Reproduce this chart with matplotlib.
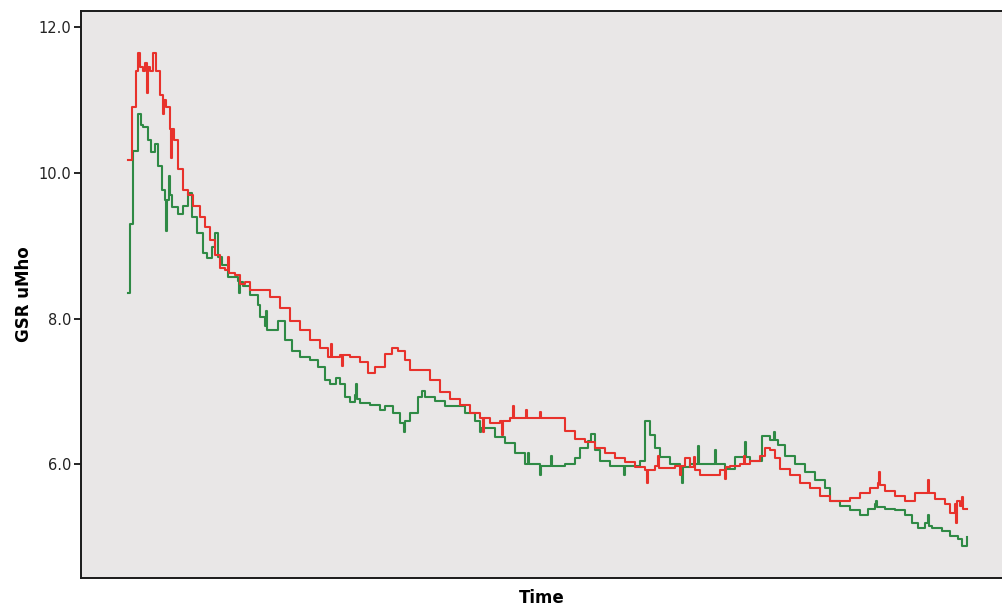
# GSR trace over time, two sessions
import matplotlib
matplotlib.use('Agg')
import matplotlib.pyplot as plt

# ---- data (time in samples, GSR in uMho) ----
red_t = [0, 4, 8, 10, 12, 15, 17, 19, 20, 22, 25, 28, 32, 35, 36, 38, 42, 43, 44,
         46, 50, 55, 60, 65, 72, 77, 82, 87, 92, 97, 100, 101, 107, 112, 117, 122,
         132, 142, 152, 162, 172, 182, 192, 200, 203, 204, 212, 214, 215, 222, 232,
         240, 247, 257, 264, 270, 277, 282, 292, 302, 312, 322, 332, 342, 352, 355,
         356, 362, 372, 374, 375, 382, 385, 386, 392, 398, 399, 405, 412, 413, 420,
         432, 437, 447, 457, 467, 477, 487, 497, 507, 517, 519, 520, 527, 530, 531,
         537, 547, 552, 553, 557, 562, 566, 567, 572, 582, 592, 597, 598, 602, 612,
         616, 617, 622, 632, 637, 642, 647, 652, 662, 672, 682, 692, 702, 712, 722,
         732, 742, 750, 751, 752, 757, 767, 777, 787, 797, 800, 801, 807, 817, 822,
         827, 828, 829, 832, 834, 835, 839]
red_v = [10.17, 10.9, 11.4, 11.65, 11.45, 11.4, 11.5, 11.1, 11.45, 11.4, 11.65, 11.4,
         11.07, 10.8, 11.0, 10.9, 10.6, 10.2, 10.6, 10.45, 10.05, 9.76, 9.7, 9.55,
         9.4, 9.25, 9.08, 8.87, 8.7, 8.66, 8.85, 8.63, 8.6, 8.48, 8.5, 8.39, 8.39,
         8.29, 8.14, 7.97, 7.84, 7.7, 7.59, 7.47, 7.65, 7.47, 7.5, 7.35, 7.5, 7.47,
         7.4, 7.25, 7.33, 7.52, 7.6, 7.55, 7.43, 7.29, 7.29, 7.15, 6.99, 6.9, 6.81,
         6.7, 6.64, 6.45, 6.64, 6.57, 6.6, 6.4, 6.6, 6.64, 6.8, 6.64, 6.63, 6.75,
         6.63, 6.63, 6.72, 6.63, 6.63, 6.63, 6.46, 6.35, 6.3, 6.23, 6.16, 6.08, 6.03,
         5.96, 5.92, 5.75, 5.92, 5.98, 6.12, 5.95, 5.95, 5.98, 5.85, 5.98, 6.09,
         5.96, 6.1, 5.92, 5.85, 5.85, 5.92, 5.8, 5.96, 5.98, 6.0, 6.12, 6.0, 6.05,
         6.12, 6.23, 6.2, 6.08, 5.94, 5.85, 5.75, 5.67, 5.57, 5.5, 5.5, 5.54, 5.61,
         5.68, 5.75, 5.9, 5.72, 5.64, 5.57, 5.5, 5.6, 5.6, 5.78, 5.6, 5.53, 5.46,
         5.33, 5.45, 5.2, 5.5, 5.43, 5.55, 5.39, 5.39]

green_t = [0, 2, 5, 10, 13, 15, 20, 23, 27, 30, 34, 37, 38, 39, 41, 42, 44, 50, 55,
           60, 64, 69, 75, 79, 84, 87, 90, 94, 100, 105, 110, 111, 112, 115, 122,
           130, 132, 137, 138, 139, 142, 150, 157, 164, 172, 182, 190, 197, 202, 208,
           212, 217, 222, 227, 228, 229, 232, 242, 252, 257, 265, 272, 276, 277, 282,
           290, 294, 297, 307, 317, 327, 337, 347, 352, 353, 357, 367, 377, 387, 397,
           400, 401, 407, 412, 413, 417, 423, 424, 427, 437, 447, 452, 460, 463, 467,
           472, 482, 492, 496, 497, 502, 512, 517, 522, 527, 532, 542, 552, 554, 555,
           562, 570, 571, 582, 587, 588, 597, 607, 617, 618, 622, 634, 642, 646, 647,
           650, 657, 667, 677, 687, 697, 702, 712, 722, 732, 740, 747, 748, 749, 757,
           767, 777, 784, 790, 797, 800, 801, 804, 814, 822, 830, 834, 839]
green_v = [8.35, 9.3, 10.3, 10.8, 10.65, 10.63, 10.45, 10.28, 10.4, 10.1, 9.76, 9.62,
           9.2, 9.62, 9.95, 9.7, 9.53, 9.44, 9.55, 9.72, 9.39, 9.17, 8.9, 8.83, 8.98,
           9.18, 8.85, 8.73, 8.57, 8.57, 8.52, 8.35, 8.5, 8.45, 8.32, 8.18, 8.02, 7.9,
           8.1, 7.84, 7.84, 7.97, 7.7, 7.56, 7.47, 7.43, 7.33, 7.15, 7.1, 7.19, 7.1,
           6.92, 6.85, 6.95, 7.1, 6.9, 6.84, 6.81, 6.74, 6.8, 6.7, 6.56, 6.45, 6.6,
           6.7, 6.92, 7.0, 6.92, 6.87, 6.8, 6.8, 6.7, 6.6, 6.45, 6.5, 6.5, 6.37, 6.29,
           6.16, 6.01, 6.15, 6.01, 6.01, 5.85, 5.98, 5.98, 6.12, 5.98, 5.98, 6.01,
           6.08, 6.23, 6.32, 6.42, 6.2, 6.05, 5.98, 5.98, 5.85, 5.98, 5.98, 6.05, 6.6,
           6.4, 6.23, 6.1, 6.01, 5.96, 5.75, 5.96, 6.01, 6.25, 6.01, 6.01, 6.2, 6.01,
           5.94, 6.1, 6.3, 6.1, 6.05, 6.39, 6.33, 6.45, 6.33, 6.26, 6.12, 6.01, 5.89,
           5.78, 5.67, 5.5, 5.43, 5.37, 5.3, 5.39, 5.45, 5.5, 5.42, 5.39, 5.37, 5.3,
           5.19, 5.13, 5.2, 5.3, 5.15, 5.12, 5.09, 5.02, 4.98, 4.88, 5.0]

y_ticks = [6.0, 8.0, 10.0, 12.0]
y_tick_labels = ['6.0', '8.0', '10.0', '12.0']

# ---- plot ----
fig = plt.figure(figsize=(10.03, 6.09), dpi=100)
ax = fig.add_axes([81 / 1003, 1 - 578 / 609, 1 - 81 / 1003, (578 - 11) / 609])
ax.set_facecolor('#e9e7e7')

ax.plot(green_t, green_v, color='#2f8a45', linewidth=1.5, drawstyle='steps-post')
ax.plot(red_t, red_v, color='#e8322c', linewidth=1.5, drawstyle='steps-post')

ax.set_xlim(-47, 875)
ax.set_ylim(4.44, 12.22)

ax.set_yticks(y_ticks)
ax.set_yticklabels(y_tick_labels, fontsize=10.5, color='#222222')
ax.set_xticks([])
ax.tick_params(axis='y', direction='out', length=5, width=1.2, pad=2)

for side in ['left', 'bottom', 'top', 'right']:
    ax.spines[side].set_color('#1a1a1a')
    ax.spines[side].set_linewidth(1.4)

ax.set_ylabel('GSR uMho', fontsize=12, fontweight='bold', labelpad=4)
ax.set_xlabel('Time', fontsize=12, fontweight='bold', labelpad=8)

fig.savefig('out.png', dpi=100)
